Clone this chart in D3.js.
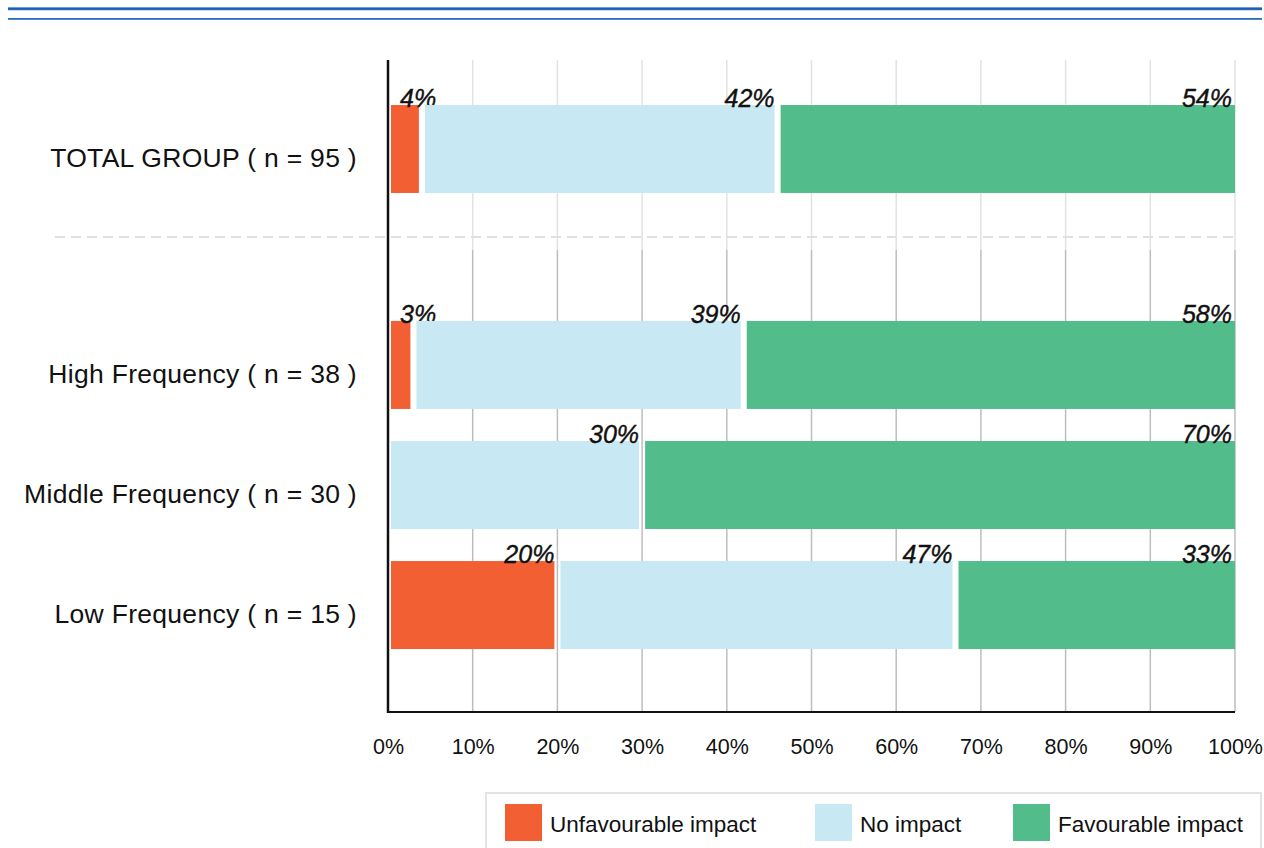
<!DOCTYPE html>
<html>
<head>
<meta charset="utf-8">
<script src="https://cdn.jsdelivr.net/npm/d3@7"></script>
<style>
  body { margin: 0; background: #fff; }
  svg { display: block; font-family: "Liberation Sans", Arial, sans-serif; }
</style>
</head>
<body>
<svg width="1264" height="848"></svg>
<script>
// data
var totalGroup = ["TOTAL GROUP ( n = 95 )"];
var freqGroups = ["High Frequency ( n = 38 )", "Middle Frequency ( n = 30 )", "Low Frequency ( n = 15 )"];
var series = ["Unfavourable impact", "No impact", "Favourable impact"];
var unfavourable = [4, 3, 0, 20];
var noImpact = [42, 39, 30, 47];
var favourable = [54, 58, 70, 33];
var ticks = [0, 10, 20, 30, 40, 50, 60, 70, 80, 90, 100];
var colors = ["#f15f33", "#c8e9f3", "#52bd8b"];

var svg = d3.select("svg"),
    plotLeft = 388, plotRight = 1235, plotTop = 60, plotBottom = 712;

// top blue rules
svg.append("rect").attr("x", 8).attr("y", 7).attr("width", 1254).attr("height", 3.5).attr("fill", "#8fb8e8");
svg.append("rect").attr("x", 8).attr("y", 7.7).attr("width", 1254).attr("height", 2.2).attr("fill", "#1c5fb0");
svg.append("rect").attr("x", 8).attr("y", 18).attr("width", 1254).attr("height", 1.8).attr("fill", "#2a6dc0");

var x = d3.scaleLinear().domain([0, 100]).range([plotLeft, plotRight]);

var yTop = d3.scaleBand().domain(totalGroup).range([89, 209])
    .paddingInner(0.267).paddingOuter(0.133);
var yBot = d3.scaleBand().domain(freqGroups).range([305, 665])
    .paddingInner(0.267).paddingOuter(0.133);

var rows = totalGroup.concat(freqGroups).map(function(name, i) {
  var y = i == 0 ? yTop : yBot;
  return { name: name, y: y(name), h: y.bandwidth(),
           vals: [unfavourable[i], noImpact[i], favourable[i]] };
});

// gridlines
var grid = svg.append("g");
grid.selectAll("line.gt")
  .data(ticks.slice(1))
  .enter().append("line")
    .attr("x1", d => x(d)).attr("x2", d => x(d))
    .attr("y1", plotTop).attr("y2", 250)
    .attr("stroke", "#e2e2e2").attr("stroke-width", 1.5);
grid.selectAll("line.gb")
  .data(ticks.slice(1))
  .enter().append("line")
    .attr("x1", d => x(d)).attr("x2", d => x(d))
    .attr("y1", 250).attr("y2", plotBottom)
    .attr("stroke", "#bdbdbd").attr("stroke-width", 1.5);

// separator
svg.append("line")
  .attr("x1", 55).attr("x2", plotRight)
  .attr("y1", 237).attr("y2", 237)
  .attr("stroke", "#e0e0e0").attr("stroke-width", 2)
  .attr("stroke-dasharray", "10,6");

// bars
rows.forEach(function(r) {
  var cum = 0;
  var g = svg.append("g");
  r.vals.forEach(function(v, j) {
    var start = cum;
    cum += v;
    if (v <= 0) return;
    var x0 = x(start) + 3;
    var x1 = j == r.vals.length - 1 ? x(cum) : x(cum) - 3;
    g.append("rect")
      .attr("x", x0).attr("y", r.y)
      .attr("width", x1 - x0).attr("height", r.h)
      .attr("fill", colors[j]);
    var small = x(cum) - x(start) < 50;
    g.append("text")
      .attr("x", small ? x(0) + 12 : x(cum) - 3)
      .attr("y", r.y + 2)
      .attr("text-anchor", small ? "start" : "end")
      .attr("font-size", 25)
      .attr("font-style", "italic")
      .attr("fill", "#111")
      .attr("stroke", "#111").attr("stroke-width", 0.4)
      .text(v + "%");
  });
  svg.append("text")
    .attr("x", 357).attr("y", r.y + r.h / 2 + 18)
    .attr("text-anchor", "end")
    .attr("font-size", 26.5)
    .attr("letter-spacing", 0.3)
    .attr("fill", "#111")
    .text(r.name);
});

// axes
svg.append("line").attr("x1", plotLeft).attr("x2", plotLeft).attr("y1", plotTop).attr("y2", plotBottom + 1)
  .attr("stroke", "#111").attr("stroke-width", 2.5);
svg.append("line").attr("x1", plotLeft - 1).attr("x2", plotRight).attr("y1", plotBottom).attr("y2", plotBottom)
  .attr("stroke", "#111").attr("stroke-width", 2);

var xAxis = svg.append("g")
  .attr("transform", "translate(0," + plotBottom + ")")
  .call(d3.axisBottom(x).tickValues(ticks).tickSize(0).tickPadding(27).tickFormat(d => d + "%"));
xAxis.select(".domain").remove();
xAxis.selectAll("text")
  .attr("font-size", 21.5)
  .attr("font-family", "Liberation Sans, Arial, sans-serif")
  .attr("fill", "#111");

// legend
var legend = svg.append("g");
legend.append("rect")
  .attr("x", 486).attr("y", 793).attr("width", 775).attr("height", 70)
  .attr("fill", "#fff").attr("stroke", "#e3e3e3").attr("stroke-width", 2);
var legX = [505, 815, 1013];
series.forEach(function(s, i) {
  legend.append("rect")
    .attr("x", legX[i]).attr("y", 804).attr("width", 37).attr("height", 37)
    .attr("fill", colors[i]);
  legend.append("text")
    .attr("x", legX[i] + 45).attr("y", 832)
    .attr("font-size", 22.5)
    .attr("fill", "#111")
    .text(s);
});
</script>
</body>
</html>
